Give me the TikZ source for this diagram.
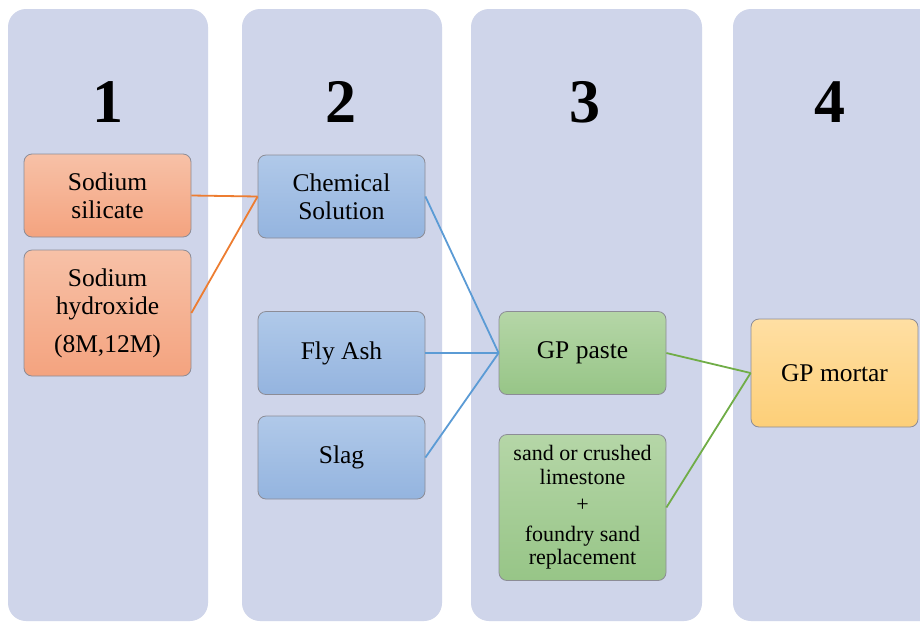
\documentclass[tikz,border=0pt]{standalone}
\usepackage{fontspec}
\setmainfont{Liberation Serif}
\begin{document}
\begin{tikzpicture}[x=1pt,y=-1pt,
  boxbase/.style={rounded corners=8pt, draw=bordc, line width=0.8pt, align=center, inner sep=0pt,
     font=\fontsize{25.5}{28}\selectfont},
  obox/.style={boxbase, top color=orT, bottom color=orB},
  bbox/.style={boxbase, top color=blT, bottom color=blB},
  gbox/.style={boxbase, top color=grT, bottom color=grB},
  ybox/.style={boxbase, top color=yeT, bottom color=yeB},
  num/.style={font=\fontsize{62}{62}\selectfont\bfseries},
  conn/.style={line width=1.8pt}
]
\definecolor{panelc}{HTML}{CFD5EA}
\definecolor{bordc}{HTML}{8C8C96}
\definecolor{orT}{HTML}{F7C1A7}
\definecolor{orB}{HTML}{F4A37F}
\definecolor{blT}{HTML}{B0C9E9}
\definecolor{blB}{HTML}{94B4DF}
\definecolor{grT}{HTML}{B5D6A7}
\definecolor{grB}{HTML}{97C587}
\definecolor{yeT}{HTML}{FFDFA3}
\definecolor{yeB}{HTML}{FDCF78}
\definecolor{lorange}{HTML}{ED7D31}
\definecolor{lblue}{HTML}{5B9BD5}
\definecolor{lgreen}{HTML}{70AD47}

\fill[white] (0,0) rectangle (920,622);
\useasboundingbox (0,0) rectangle (920,622);
\begin{scope}
\clip (0,0) rectangle (920,622);
\fill[panelc, rounded corners=18pt] (8,9) rectangle (208,621);
\fill[panelc, rounded corners=18pt] (242,9) rectangle (442,621);
\fill[panelc, rounded corners=18pt] (471,9) rectangle (702,621);
\fill[panelc, rounded corners=18pt] (733,9) rectangle (960,621);
\end{scope}

\node[num] (n1) at (108,102) {1};
\node[num] (n2) at (341,102) {2};
\node[num] (n3) at (585,102) {3};
\node[num] (n4) at (830,102) {4};

% boxes
\node[obox, minimum width=167pt, minimum height=83pt] (ss) at (107.5,195.5) {Sodium\\silicate};
\node[obox, minimum width=167pt, minimum height=126pt] (sh) at (107.5,313) {Sodium\\hydroxide\\[10pt](8M,12M)};
\node[bbox, minimum width=167pt, minimum height=83pt] (cs) at (341.5,196.5) {Chemical\\Solution};
\node[bbox, minimum width=167pt, minimum height=83pt] (fa) at (341.5,353) {Fly Ash};
\node[bbox, minimum width=167pt, minimum height=83pt] (sl) at (341.5,457.5) {Slag};
\node[gbox, minimum width=167pt, minimum height=83pt] (gp) at (582.5,353) {GP paste};
\node[gbox, minimum width=167pt, minimum height=146pt, font=\fontsize{22}{23.5}\selectfont] (sd) at (582.5,507.5)
  {sand or crushed\\limestone\\[4pt]+\\[6pt]foundry sand\\replacement};
\node[ybox, minimum width=167pt, minimum height=108pt] (gm) at (834.5,373) {GP mortar};

% connectors
\draw[conn, lorange] (ss.east) -- (cs.west);
\draw[conn, lorange] (sh.east) -- (cs.west);
\draw[conn, lblue] (cs.east) -- (gp.west);
\draw[conn, lblue] (fa.east) -- (gp.west);
\draw[conn, lblue] (sl.east) -- (gp.west);
\draw[conn, lgreen] (gp.east) -- (gm.west);
\draw[conn, lgreen] (sd.east) -- (gm.west);
\end{tikzpicture}
\end{document}
